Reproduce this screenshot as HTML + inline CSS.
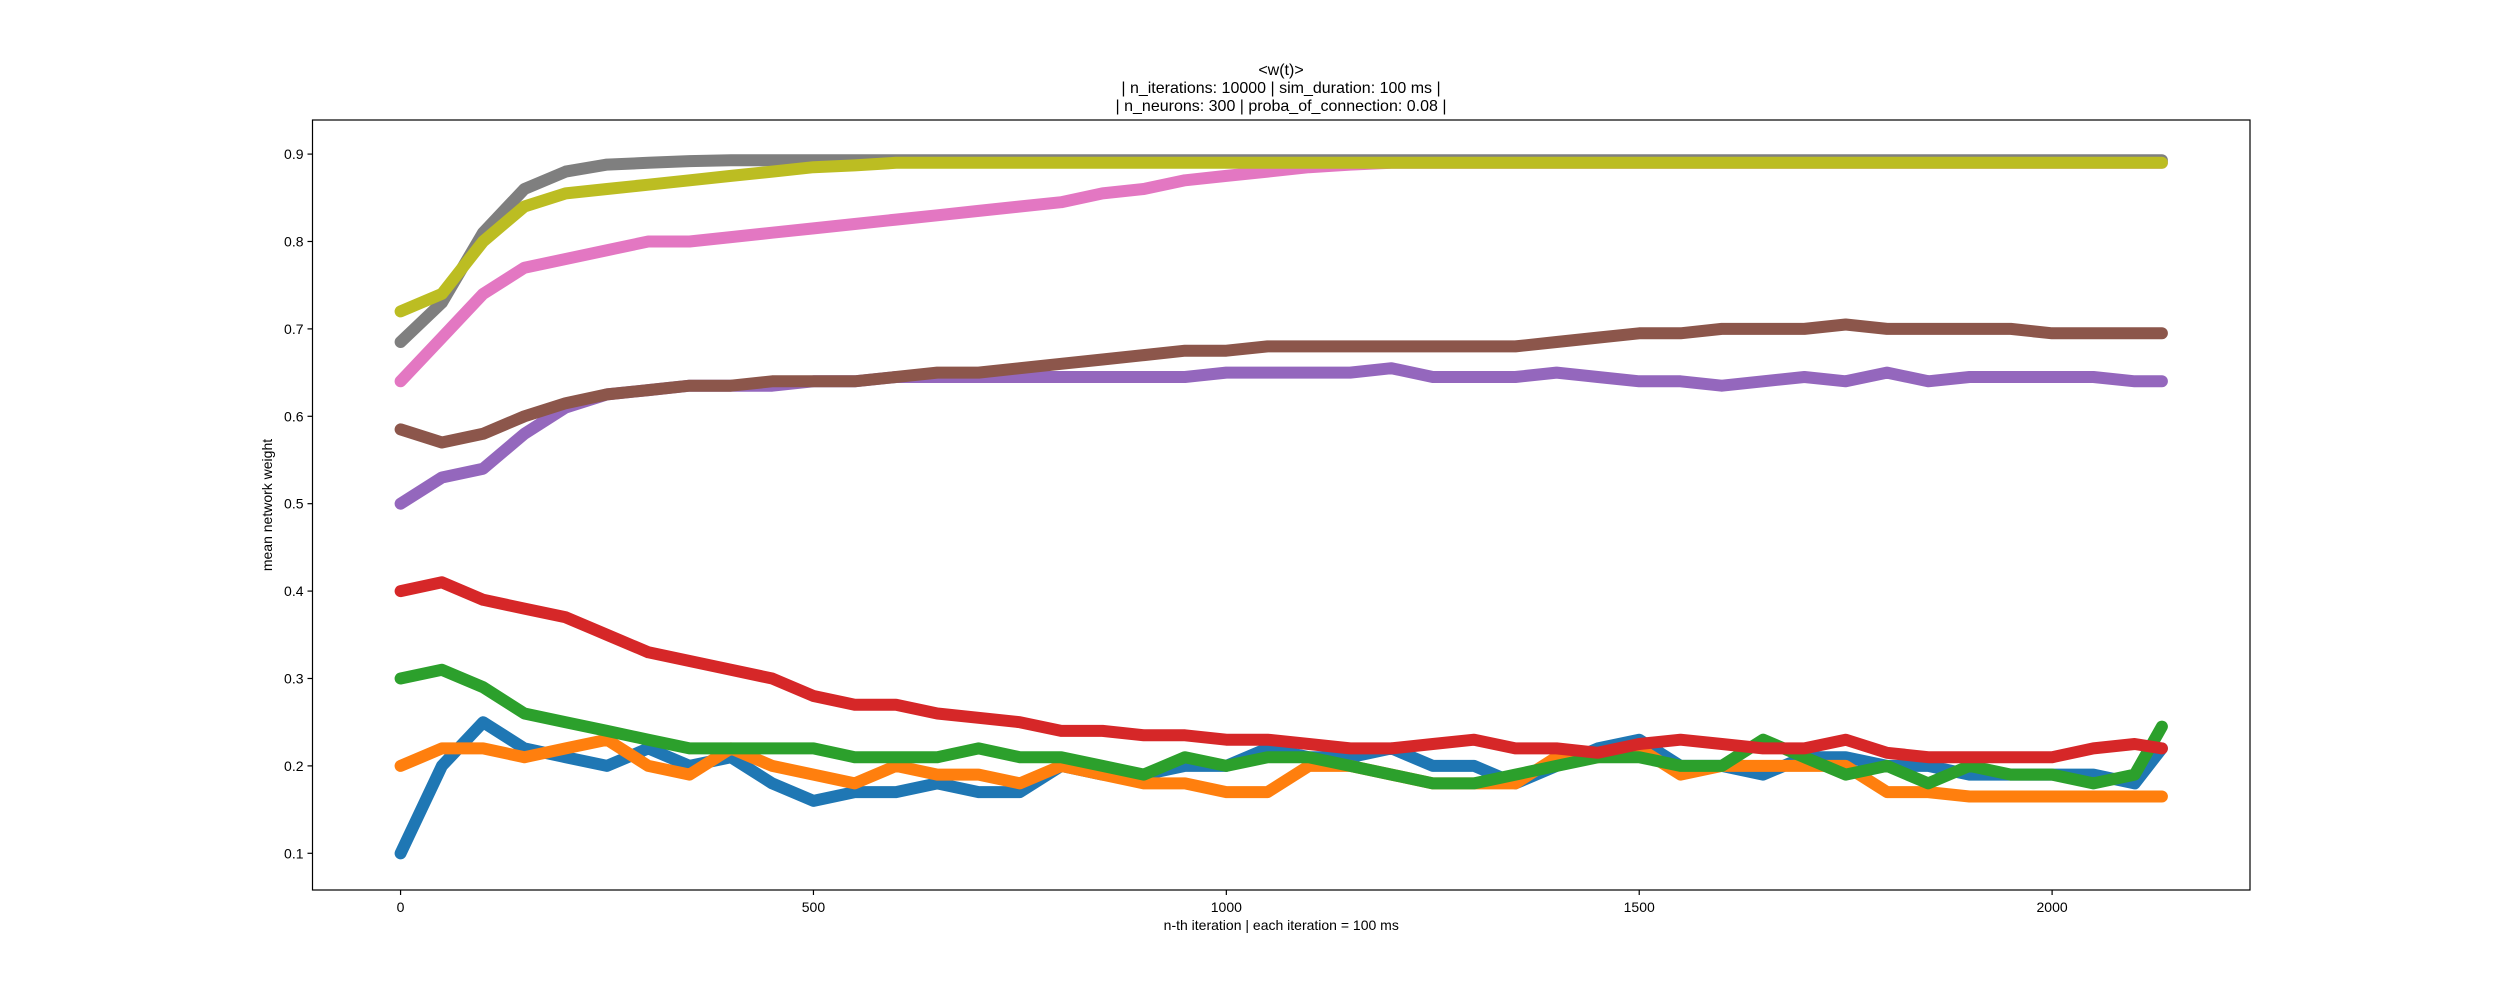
<!DOCTYPE html>
<html><head><meta charset="utf-8"><style>
html,body{margin:0;padding:0;background:#fff;}
svg{display:block;font-family:"Liberation Sans",sans-serif;}
</style></head>
<body>
<svg id="chart" width="2500" height="1000" viewBox="0 0 2500 1000">
<rect x="0" y="0" width="2500" height="1000" fill="#fff"/>
<g id="title" font-size="16" text-anchor="middle" fill="#000">
<text x="1281" y="75">&lt;w(t)&gt;</text>
<text x="1281" y="93">| n_iterations: 10000 | sim_duration: 100 ms |</text>
<text x="1281" y="111">| n_neurons: 300 | proba_of_connection: 0.08 |</text>
</g>
<g id="series"></g>
<g id="axes"></g>
</svg>
<script>
const xSteps = [0,50,100,150,200,250,300,350,400,450,500,550,600,650,700,750,800,850,900,950,1000,1050,1100,1150,1200,1250,1300,1350,1400,1450,1500,1550,1600,1650,1700,1750,1800,1850,1900,1950,2000,2050,2100,2133];
const blueVals = [0.10,0.20,0.25,0.22,0.21,0.20,0.22,0.20,0.21,0.18,0.16,0.17,0.17,0.18,0.17,0.17,0.20,0.19,0.19,0.20,0.20,0.22,0.21,0.21,0.22,0.20,0.20,0.18,0.20,0.22,0.23,0.20,0.20,0.19,0.21,0.21,0.20,0.20,0.19,0.19,0.19,0.19,0.18,0.22];
const orangeVals = [0.20,0.22,0.22,0.21,0.22,0.23,0.20,0.19,0.22,0.20,0.19,0.18,0.20,0.19,0.19,0.18,0.20,0.19,0.18,0.18,0.17,0.17,0.20,0.20,0.19,0.18,0.18,0.18,0.21,0.21,0.22,0.19,0.20,0.20,0.20,0.20,0.17,0.17,0.165,0.165,0.165,0.165,0.165,0.165];
const greenVals = [0.30,0.31,0.29,0.26,0.25,0.24,0.23,0.22,0.22,0.22,0.22,0.21,0.21,0.21,0.22,0.21,0.21,0.20,0.19,0.21,0.20,0.21,0.21,0.20,0.19,0.18,0.18,0.19,0.20,0.21,0.21,0.20,0.20,0.23,0.21,0.19,0.20,0.18,0.20,0.19,0.19,0.18,0.19,0.245];
const redVals = [0.40,0.41,0.39,0.38,0.37,0.35,0.33,0.32,0.31,0.30,0.28,0.27,0.27,0.26,0.255,0.25,0.24,0.24,0.235,0.235,0.23,0.23,0.225,0.22,0.22,0.225,0.23,0.22,0.22,0.215,0.225,0.23,0.225,0.22,0.22,0.23,0.215,0.21,0.21,0.21,0.21,0.22,0.225,0.22];
const purpleVals = [0.50,0.53,0.54,0.58,0.61,0.625,0.63,0.635,0.635,0.635,0.64,0.64,0.645,0.645,0.645,0.645,0.645,0.645,0.645,0.645,0.65,0.65,0.65,0.65,0.655,0.645,0.645,0.645,0.65,0.645,0.64,0.64,0.635,0.64,0.645,0.64,0.65,0.64,0.645,0.645,0.645,0.645,0.64,0.64];
const brownVals = [0.585,0.57,0.58,0.60,0.615,0.625,0.63,0.635,0.635,0.64,0.64,0.64,0.645,0.65,0.65,0.655,0.66,0.665,0.67,0.675,0.675,0.68,0.68,0.68,0.68,0.68,0.68,0.68,0.685,0.69,0.695,0.695,0.70,0.70,0.70,0.705,0.70,0.70,0.70,0.70,0.695,0.695,0.695,0.695];
const pinkVals = [0.64,0.69,0.74,0.77,0.78,0.79,0.80,0.80,0.805,0.81,0.815,0.82,0.825,0.83,0.835,0.84,0.845,0.855,0.86,0.87,0.875,0.88,0.885,0.888,0.89,0.89,0.89,0.89,0.89,0.89,0.89,0.89,0.89,0.89,0.89,0.89,0.89,0.89,0.89,0.89,0.89,0.89,0.89,0.89];
const grayVals = [0.685,0.73,0.81,0.86,0.88,0.888,0.89,0.892,0.893,0.893,0.893,0.893,0.893,0.893,0.893,0.893,0.893,0.893,0.893,0.893,0.893,0.893,0.893,0.893,0.893,0.893,0.893,0.893,0.893,0.893,0.893,0.893,0.893,0.893,0.893,0.893,0.893,0.893,0.893,0.893,0.893,0.893,0.893,0.893];
const oliveVals = [0.72,0.74,0.80,0.84,0.855,0.86,0.865,0.87,0.875,0.88,0.885,0.887,0.89,0.89,0.89,0.89,0.89,0.89,0.89,0.89,0.89,0.89,0.89,0.89,0.89,0.89,0.89,0.89,0.89,0.89,0.89,0.89,0.89,0.89,0.89,0.89,0.89,0.89,0.89,0.89,0.89,0.89,0.89,0.89];
const xTicks = [0,500,1000,1500,2000];
const yTicks = [0.1,0.2,0.3,0.4,0.5,0.6,0.7,0.8,0.9];
const yTickLabels = ["0.1","0.2","0.3","0.4","0.5","0.6","0.7","0.8","0.9"];

const L=312.5,R=2250,T=120,B=890;
const xMin=-106.65,xMax=2239.65,yMin=0.058,yMax=0.939;
const sx=v=>L+(v-xMin)/(xMax-xMin)*(R-L);
const sy=v=>B-(v-yMin)/(yMax-yMin)*(B-T);
const NS="http://www.w3.org/2000/svg";
const mk=(t,a,p)=>{const e=document.createElementNS(NS,t);for(const k in a)e.setAttribute(k,a[k]);p.appendChild(e);return e;};

const seriesList=[["blue",blueVals,"#1f77b4"],["orange",orangeVals,"#ff7f0e"],["green",greenVals,"#2ca02c"],["red",redVals,"#d62728"],["purple",purpleVals,"#9467bd"],["brown",brownVals,"#8c564b"],["pink",pinkVals,"#e377c2"],["gray",grayVals,"#7f7f7f"],["olive",oliveVals,"#bcbd22"]];
const sg=document.getElementById('series');
seriesList.forEach(([n,vals,c])=>{
  const pts=vals.map((v,i)=>sx(xSteps[i]).toFixed(1)+","+sy(v).toFixed(1)).join(" ");
  const pl=mk('polyline',{points:pts,fill:'none',stroke:c,'stroke-width':12,'stroke-linecap':'round','stroke-linejoin':'round'},sg);
  
  
});

const ag=document.getElementById('axes');
const frame=mk('rect',{x:L,y:T,width:R-L,height:B-T,fill:'none',stroke:'#000','stroke-width':1.2},ag);


xTicks.forEach(v=>{
  const x=sx(v);
  mk('line',{x1:x,x2:x,y1:B,y2:B+5,stroke:'#000','stroke-width':1.2},ag);
  const t=mk('text',{x:x,y:B+22,'font-size':14,'text-anchor':'middle'},ag);
  t.textContent=String(v);
  
  
});
yTicks.forEach((v,i)=>{
  const y=sy(v);
  mk('line',{x1:L-5,x2:L,y1:y,y2:y,stroke:'#000','stroke-width':1.2},ag);
  const t=mk('text',{x:L-9,y:y+5,'font-size':14,'text-anchor':'end'},ag);
  t.textContent=yTickLabels[i];
  
  
});
const xl=mk('text',{x:(L+R)/2,y:930,'font-size':14,'text-anchor':'middle'},ag);
xl.textContent="n-th iteration | each iteration = 100 ms";


const yl=mk('text',{x:272,y:(T+B)/2,'font-size':14,'text-anchor':'middle',transform:`rotate(-90 272 ${(T+B)/2})`},ag);
yl.textContent="mean network weight";


</script>
</body></html>
